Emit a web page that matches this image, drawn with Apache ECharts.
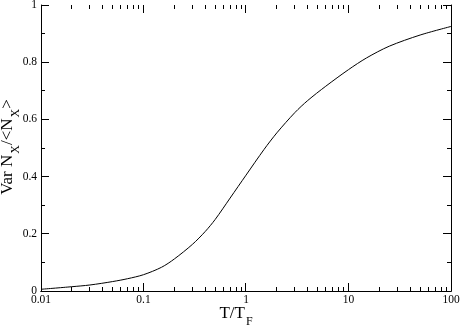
<!DOCTYPE html>
<html>
<head>
<meta charset="utf-8">
<script src="https://cdn.jsdelivr.net/npm/echarts@6/dist/echarts.min.js"></script>
<style>
  html, body { margin: 0; padding: 0; background: #fff; }
  #chart { width: 461px; height: 327px; }
</style>
</head>
<body>
<div id="chart"></div>
<script>
// T/T_F and Var N_X / <N_X>
var tempRatio = [0.01, 0.02, 0.03, 0.05, 0.07, 0.1, 0.15, 0.2, 0.3, 0.4, 0.5, 0.7, 1, 1.5, 2, 3, 4, 6, 10, 15, 25, 50, 100]
var variance = [0.006, 0.015, 0.021, 0.033, 0.043, 0.057, 0.083, 0.112, 0.163, 0.208, 0.250, 0.325, 0.405, 0.495, 0.553, 0.624, 0.666, 0.716, 0.774, 0.815, 0.856, 0.895, 0.925]

var xMajorTicks = [0.01, 0.1, 1, 10, 100]
var xMinorTicks = [
  0.02, 0.03, 0.04, 0.05, 0.06, 0.07, 0.08, 0.09,
  0.2, 0.3, 0.4, 0.5, 0.6, 0.7, 0.8, 0.9,
  2, 3, 4, 5, 6, 7, 8, 9,
  20, 30, 40, 50, 60, 70, 80, 90
]
var yMajorTicks = [0, 0.2, 0.4, 0.6, 0.8, 1]
var yMinorTicks = [0.1, 0.3, 0.5, 0.7, 0.9]

var font = 'Liberation Serif'
var black = '#000'

function crisp(v) {
  return Math.round(v - 0.5) + 0.5
}

// tick marks on both opposite sides, drawn through the axes' own scales
function tickLine(x1, y1, x2, y2) {
  return {
    type: 'line',
    shape: { x1: x1, y1: y1, x2: x2, y2: y2 },
    style: { stroke: black, lineWidth: 1 }
  }
}

function renderXTick(params, api) {
  var cs = params.coordSys
  var len = api.value(2) === 1 ? 8 : 4
  var x = crisp(api.coord([api.value(0), 0.5])[0])
  var bottom = cs.y + cs.height
  var top = cs.y
  return {
    type: 'group',
    children: [
      tickLine(x, bottom, x, bottom - len),
      tickLine(x, top, x, top + len)
    ]
  }
}

function renderYTick(params, api) {
  var cs = params.coordSys
  var len = api.value(2) === 1 ? 8 : 4
  var y = crisp(api.coord([1, api.value(1)])[1])
  var left = cs.x
  var right = cs.x + cs.width
  return {
    type: 'group',
    children: [
      tickLine(left, y, left + len, y),
      tickLine(right, y, right - len, y)
    ]
  }
}

var xTickData = xMajorTicks.map(function (v) { return [v, 0, 1] })
  .concat(xMinorTicks.map(function (v) { return [v, 0, 0] }))
var yTickData = yMajorTicks.map(function (v) { return [1, v, 1] })
  .concat(yMinorTicks.map(function (v) { return [1, v, 0] }))

function xAxis(position, withLabels) {
  return {
    type: 'log',
    logBase: 10,
    min: 0.01,
    max: 100,
    position: position,
    axisLine: { show: true, lineStyle: { color: black, width: 1 } },
    axisTick: { show: false },
    axisLabel: {
      show: withLabels,
      customValues: xMajorTicks,
      margin: 3,
      color: black,
      fontFamily: font,
      fontSize: 11.5
    },
    splitLine: { show: false }
  }
}

function yAxis(position, withLabels) {
  return {
    type: 'value',
    min: 0,
    max: 1,
    interval: 0.2,
    position: position,
    axisLine: { show: true, lineStyle: { color: black, width: 1 } },
    axisTick: { show: false },
    axisLabel: {
      show: withLabels,
      margin: 4,
      color: black,
      fontFamily: font,
      fontSize: 11.5
    },
    splitLine: { show: false }
  }
}

var titleRich = {
  a: { fontFamily: font, fontSize: 17, fill: black },
  s: { fontFamily: font, fontSize: 12, fill: black, padding: [15, 0, 0, 1] }
}

var chart = echarts.init(document.getElementById('chart'))

chart.setOption({
  animation: false,
  grid: { left: 41, right: 10, top: 5, bottom: 36, outerBoundsMode: 'none' },
  xAxis: [
    xAxis('bottom', true),
    xAxis('top', false)
  ],
  yAxis: [
    yAxis('left', true),
    yAxis('right', false)
  ],
  graphic: [
    {
      type: 'text',
      x: 236,
      y: 314,
      style: {
        text: '{a|T/T}{s|F}',
        rich: titleRich,
        align: 'center',
        verticalAlign: 'middle'
      }
    },
    {
      type: 'text',
      x: 8,
      y: 147,
      rotation: Math.PI / 2,
      style: {
        text: '{a|Var N}{s|X}{a|/<N}{s|X}{a|>}',
        rich: titleRich,
        align: 'center',
        verticalAlign: 'middle'
      }
    }
  ],
  series: [
    {
      type: 'line',
      data: tempRatio.map(function (t, i) { return [t, variance[i]] }),
      smooth: 0.3,
      showSymbol: false,
      lineStyle: { color: black, width: 1 }
    },
    {
      type: 'custom',
      silent: true,
      clip: false,
      renderItem: renderXTick,
      encode: { x: 0, y: 1 },
      data: xTickData
    },
    {
      type: 'custom',
      silent: true,
      clip: false,
      renderItem: renderYTick,
      encode: { x: 0, y: 1 },
      data: yTickData
    }
  ]
})
</script>
</body>
</html>
